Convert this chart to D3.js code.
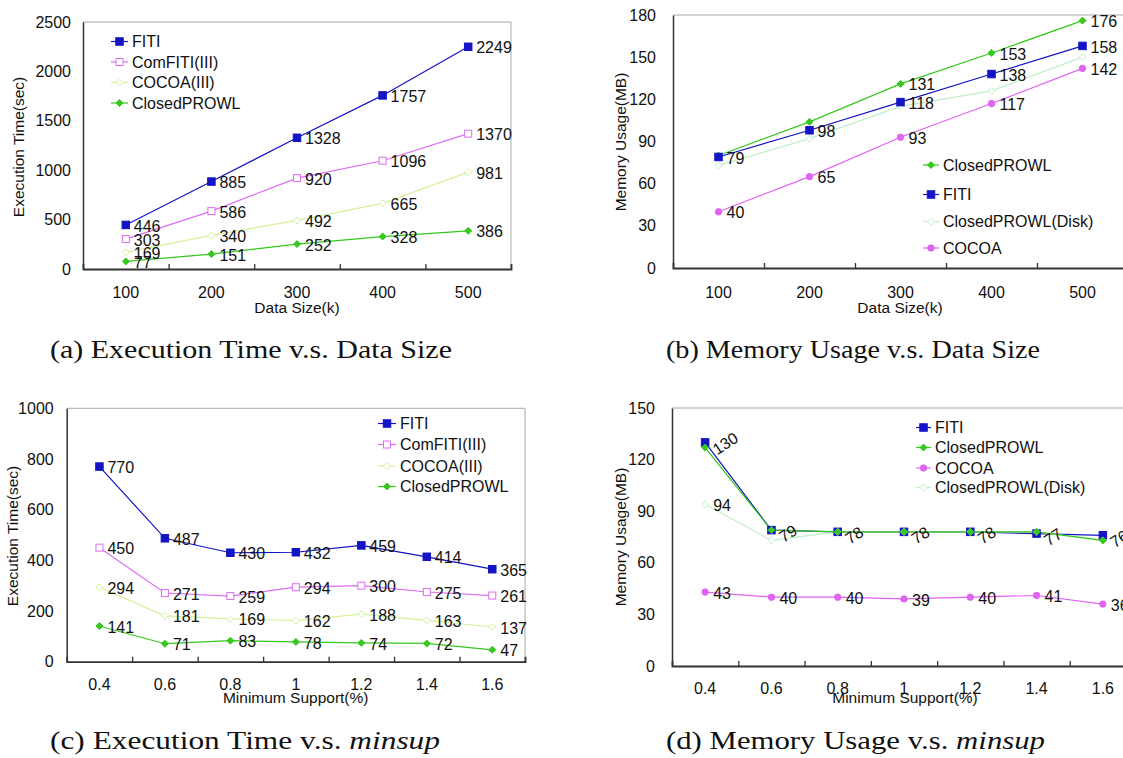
<!DOCTYPE html>
<html><head><meta charset="utf-8">
<script src="https://cdn.jsdelivr.net/npm/d3@7"></script>
<style>body{margin:0;background:#fff} svg{display:block} .sans{font-family:"Liberation Sans",Arial,sans-serif}</style>
</head><body>
<svg id="c" width="1123" height="758"></svg>
<script>
// ---------- data ----------
const sizeCats = ["100","200","300","400","500"];
const supCats = ["0.4","0.6","0.8","1","1.2","1.4","1.6"];

const aTicks = [0,500,1000,1500,2000,2500];
const aFITI = [446,885,1328,1757,2249];
const aComFITI = [303,586,920,1096,1370];
const aCOCOA3 = [169,340,492,665,981];
const aClosedPROWL = [77,151,252,328,386];

const bTicks = [0,30,60,90,120,150,180];
const bClosedPROWL = [80,104,131,153,176];
const bFITI = [79,98,118,138,158];
const bDisk = [73,92,115,126,150];
const bCOCOA = [40,65,93,117,142];

const cTicks = [0,200,400,600,800,1000];
const cFITI = [770,487,430,432,459,414,365];
const cComFITI = [450,271,259,294,300,275,261];
const cCOCOA3 = [294,181,169,162,188,163,137];
const cClosedPROWL = [141,71,83,78,74,72,47];

const dTicks = [0,30,60,90,120,150];
const dFITI = [130,79,78,78,78,77,76];
const dClosedPROWL = [127,79,78,78,78,78,73];
const dCOCOA = [43,40,40,39,40,41,36];
const dDisk = [94,73,78,78,78,78,73];

// ---------- styles ----------
const ST = {
  FITI:   {color:"#1414c4", sym:"square",  fill:true,  size:7.5},
  ComFITI:{color:"#dd6cf5", sym:"square",  fill:false, size:7},
  COCOA3: {color:"#d4f29a", sym:"diamond", fill:false, size:7},
  CP:     {color:"#36c81c", sym:"diamond", fill:true,  size:7},
  COCOA:  {color:"#e064f2", sym:"circle",  fill:true,  size:7},
  Disk:   {color:"#bff0c6", sym:"diamond", fill:false, size:7}
};

const svg = d3.select("#c");
const FONT = 16;
const SANS = "'Liberation Sans',Arial,sans-serif";

function marker(g, st, cx, cy){
  const s = st.size, h = s/2;
  let el;
  if(st.sym==="square"){
    el = g.append("rect").attr("x",cx-h).attr("y",cy-h).attr("width",s).attr("height",s);
  } else if(st.sym==="diamond"){
    el = g.append("path").attr("d",`M${cx},${cy-h}L${cx+h},${cy}L${cx},${cy+h}L${cx-h},${cy}Z`);
  } else {
    el = g.append("circle").attr("cx",cx).attr("cy",cy).attr("r",h-0.3);
  }
  el.attr("fill", st.fill ? st.color : "#fff").attr("stroke", st.color).attr("stroke-width",1);
}

function panel(cfg){
  const g = svg.append("g").attr("font-family",SANS);
  const n = cfg.cats.length;
  const x = d3.scaleBand().domain(cfg.cats).range([cfg.x0,cfg.x1]);
  const bw = x.bandwidth();
  const cx = i => x(cfg.cats[i]) + bw/2;
  const y = d3.scaleLinear().domain([cfg.ticks[0], cfg.ticks[cfg.ticks.length-1]]).range([cfg.y1,cfg.y0]);

  // top/right frame
  g.append("path").attr("d",`M${cfg.x0},${cfg.y0}H${cfg.x1}V${cfg.y1}`)
    .attr("stroke","#a8a8a8").attr("stroke-width",1).attr("fill","none");

  // y axis
  const ya = g.append("g").attr("transform",`translate(${cfg.x0},0)`)
    .call(d3.axisLeft(y).tickValues(cfg.ticks).tickSize(0).tickPadding(cfg.yGap).tickFormat(d3.format("d")))
    .attr("font-family",SANS);
  ya.select(".domain").attr("stroke","#333").attr("stroke-width",1.5);
  ya.selectAll("text").attr("font-size",FONT).attr("fill","#111");

  // x axis boundary ticks
  const xi = d3.scaleLinear().domain([0,n]).range([cfg.x0,cfg.x1]);
  const xb = g.append("g").attr("transform",`translate(0,${cfg.y1})`)
    .call(d3.axisBottom(xi).tickValues(d3.range(1,n)).tickSize(-5).tickFormat(""));
  xb.select(".domain").attr("stroke","#333").attr("stroke-width",1.8);
  xb.selectAll(".tick line").attr("stroke","#333").attr("stroke-width",1.3);
  // x labels
  const xl = g.append("g").attr("transform",`translate(0,${cfg.y1})`)
    .call(d3.axisBottom(x).tickSize(0).tickPadding(cfg.xPad)).attr("font-family",SANS);
  xl.select(".domain").remove();
  xl.selectAll("text").attr("font-size",FONT).attr("fill","#111");

  // axis titles
  g.append("text").attr("x",cfg.x0 + cfg.xTitleX).attr("y",cfg.y1+cfg.xTitleDy)
    .attr("text-anchor","middle").attr("font-size",15.5).attr("fill","#111").text(cfg.xTitle);
  g.append("text").attr("transform",`translate(${cfg.yTitleX},${cfg.yTitleY}) rotate(-90)`)
    .attr("text-anchor","middle").attr("dy","0.35em").attr("font-size",15.5).attr("fill","#111").text(cfg.yTitle);

  // series
  const line = d3.line().x((d,i)=>cx(i)).y(d=>y(d));
  cfg.series.forEach(s=>{
    const st = ST[s.style];
    g.append("path").datum(s.values).attr("d",line).attr("fill","none")
      .attr("stroke",st.color).attr("stroke-width",1.2);
  });
  cfg.series.forEach(s=>{
    const st = ST[s.style];
    s.values.forEach((v,i)=>marker(g,st,cx(i),y(v)));
  });
  cfg.series.forEach(s=>{
    if(!s.labels) return;
    s.values.forEach((v,i)=>{
      if(s.labels!=="all" && s.labels.indexOf(i)<0) return;
      if(s.rotate){
        g.append("text").attr("transform",`translate(${cx(i)+12},${y(v)+13}) rotate(-33)`)
          .attr("font-size",FONT).attr("fill","#111").text(v);
      } else {
        g.append("text").attr("x",cx(i)+8).attr("y",y(v)+1).attr("dy","0.35em")
          .attr("font-size",FONT).attr("fill","#111").text(v);
      }
    });
  });

  // legend
  cfg.legend.items.forEach((it,k)=>{
    const st = ST[it.style];
    const ly = cfg.legend.ys[k];
    g.append("line").attr("x1",cfg.legend.x).attr("x2",cfg.legend.x+cfg.legend.w)
      .attr("y1",ly).attr("y2",ly).attr("stroke",st.color).attr("stroke-width",1.2);
    marker(g,st,cfg.legend.x+cfg.legend.w/2,ly);
    g.append("text").attr("x",cfg.legend.x+cfg.legend.w+4).attr("y",ly).attr("dy","0.35em")
      .attr("font-size",FONT).attr("fill","#111").text(it.name);
  });
}

// (a)
panel({
  cats:sizeCats, ticks:aTicks, x0:83, x1:511, y0:22, y1:269, yGap:12, xPad:18,
  xTitle:"Data Size(k)", xTitleX:214, xTitleDy:44, yTitle:"Execution Time(sec)", yTitleX:19, yTitleY:147,
  series:[
    {name:"ClosedPROWL", style:"CP", values:aClosedPROWL, labels:"all"},
    {name:"COCOA(III)", style:"COCOA3", values:aCOCOA3, labels:"all"},
    {name:"ComFITI(III)", style:"ComFITI", values:aComFITI, labels:"all"},
    {name:"FITI", style:"FITI", values:aFITI, labels:"all"}
  ],
  legend:{x:111, w:17, ys:[41.5,62,82.5,103], items:[
    {name:"FITI",style:"FITI"},{name:"ComFITI(III)",style:"ComFITI"},
    {name:"COCOA(III)",style:"COCOA3"},{name:"ClosedPROWL",style:"CP"}]}
});

// (b)
panel({
  cats:sizeCats, ticks:bTicks, x0:673, x1:1128, y0:15, y1:268, yGap:17, xPad:19,
  xTitle:"Data Size(k)", xTitleX:227, xTitleDy:45, yTitle:"Memory Usage(MB)", yTitleX:621, yTitleY:142,
  series:[
    {name:"ClosedPROWL(Disk)", style:"Disk", values:bDisk},
    {name:"COCOA", style:"COCOA", values:bCOCOA, labels:"all"},
    {name:"ClosedPROWL", style:"CP", values:bClosedPROWL, labels:[2,3,4]},
    {name:"FITI", style:"FITI", values:bFITI, labels:"all"}
  ],
  legend:{x:923, w:16, ys:[165,194.5,221.5,248], items:[
    {name:"ClosedPROWL",style:"CP"},{name:"FITI",style:"FITI"},
    {name:"ClosedPROWL(Disk)",style:"Disk"},{name:"COCOA",style:"COCOA"}]}
});

// (c)
panel({
  cats:supCats, ticks:cTicks, x0:66.7, x1:525, y0:408.3, y1:661.7, yGap:13, xPad:17,
  xTitle:"Minimum Support(%)", xTitleX:229, xTitleDy:41, yTitle:"Execution Time(sec)", yTitleX:13, yTitleY:536,
  series:[
    {name:"ClosedPROWL", style:"CP", values:cClosedPROWL, labels:"all"},
    {name:"COCOA(III)", style:"COCOA3", values:cCOCOA3, labels:"all"},
    {name:"ComFITI(III)", style:"ComFITI", values:cComFITI, labels:"all"},
    {name:"FITI", style:"FITI", values:cFITI, labels:"all"}
  ],
  legend:{x:378, w:18, ys:[423.5,444.5,466,486.5], items:[
    {name:"FITI",style:"FITI"},{name:"ComFITI(III)",style:"ComFITI"},
    {name:"COCOA(III)",style:"COCOA3"},{name:"ClosedPROWL",style:"CP"}]}
});

// (d)
panel({
  cats:supCats, ticks:dTicks, x0:672, x1:1136, y0:408, y1:666, yGap:17, xPad:17,
  xTitle:"Minimum Support(%)", xTitleX:233, xTitleDy:37, yTitle:"Memory Usage(MB)", yTitleX:621, yTitleY:537,
  series:[
    {name:"COCOA", style:"COCOA", values:dCOCOA, labels:"all"},
    {name:"FITI", style:"FITI", values:dFITI, labels:"all", rotate:true},
    {name:"ClosedPROWL(Disk)", style:"Disk", values:dDisk, labels:[0]},
    {name:"ClosedPROWL", style:"CP", values:dClosedPROWL}
  ],
  legend:{x:916, w:15, ys:[427.5,447.5,468,487.5], items:[
    {name:"FITI",style:"FITI"},{name:"ClosedPROWL",style:"CP"},
    {name:"COCOA",style:"COCOA"},{name:"ClosedPROWL(Disk)",style:"Disk"}]}
});

// captions
const caps = [
  {x:50, y:350, w:402, parts:[["(a) Execution Time v.s. Data Size",false]]},
  {x:666, y:350, w:374, parts:[["(b) Memory Usage v.s. Data Size",false]]},
  {x:50, y:741, w:390, parts:[["(c) Execution Time v.s. ",false],["minsup",true]]},
  {x:666, y:741, w:379, parts:[["(d) Memory Usage v.s. ",false],["minsup",true]]}
];
caps.forEach(c=>{
  const t = svg.append("text").attr("x",c.x).attr("y",c.y).attr("dy","0.3em")
    .attr("font-family","'Liberation Serif','Times New Roman',serif").attr("font-size",26).attr("fill","#111")
    .attr("textLength",c.w).attr("lengthAdjust","spacingAndGlyphs");
  c.parts.forEach(p=>t.append("tspan").attr("font-style",p[1]?"italic":null).text(p[0]));
});
</script>
</body></html>
